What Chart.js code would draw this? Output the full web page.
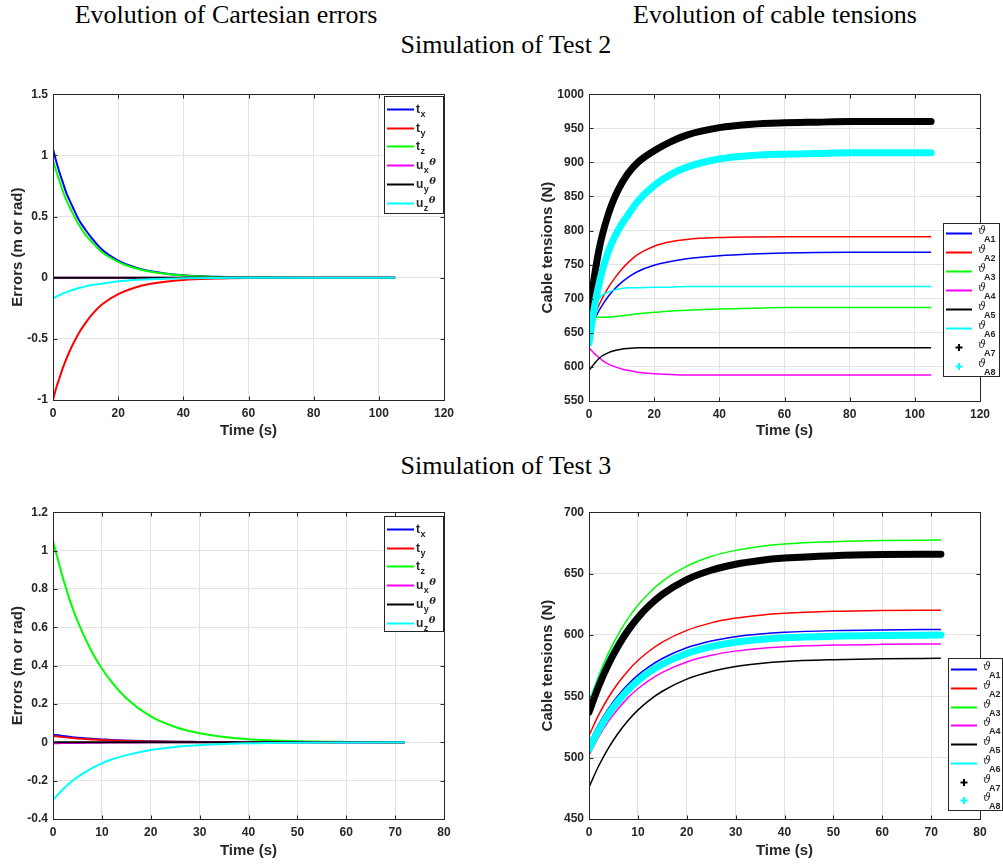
<!DOCTYPE html>
<html>
<head>
<meta charset="utf-8">
<script src="https://cdn.jsdelivr.net/npm/chart.js@4.4.0/dist/chart.umd.min.js"></script>
<style>
body{margin:0;background:#fff;width:1003px;height:865px;position:relative;overflow:hidden;}
.ttl{position:absolute;font-family:"Liberation Serif","Times New Roman",serif;font-size:26px;line-height:26px;color:#000;white-space:nowrap;transform:translateX(-50%);}
.pane{position:absolute;}
</style>
</head>
<body>
<div class="ttl" style="left:226px;top:2px">Evolution of Cartesian errors</div>
<div class="ttl" style="left:775px;top:2px">Evolution of cable tensions</div>
<div class="ttl" style="left:506px;top:32px">Simulation of Test 2</div>
<div class="ttl" style="left:506px;top:453px">Simulation of Test 3</div>

<div class="pane" style="left:0;top:82px"><canvas id="err2" width="470" height="365"></canvas></div>
<div class="pane" style="left:520px;top:82px"><canvas id="ten2" width="483" height="365"></canvas></div>
<div class="pane" style="left:0;top:500px"><canvas id="err3" width="470" height="365"></canvas></div>
<div class="pane" style="left:520px;top:500px"><canvas id="ten3" width="483" height="365"></canvas></div>

<script>
// sample times (s)
var time2 = [0,1,2,3,4,6,8,10,12,15,20,25,30,40,50,60,70,80,90,105];
var time3 = [0,2,4,6,8,10,12,15,20,25,30,35,40,50,60,72];

var errLabels = ['t_x','t_y','t_z','u_xθ','u_yθ','u_zθ'];
var errColors = ['#0000ff','#ff0000','#00ff00','#ff00ff','#000000','#00ffff'];
var tenLabels = ['ϑ_A1','ϑ_A2','ϑ_A3','ϑ_A4','ϑ_A5','ϑ_A6','ϑ_A7','ϑ_A8'];
var tenColors = ['#0000ff','#ff0000','#00ff00','#ff00ff','#000000','#00ffff','#000000','#00ffff'];

// tick values
var xTicks2 = [0,20,40,60,80,100,120];
var xTicks3 = [0,10,20,30,40,50,60,70,80];
var yErr2 = [-1,-0.5,0,0.5,1,1.5];
var yTen2 = [550,600,650,700,750,800,850,900,950,1000];
var yErr3 = [-0.4,-0.2,0,0.2,0.4,0.6,0.8,1,1.2];
var yTen3 = [450,500,550,600,650,700];

// Test 2 - cartesian errors
var e2_tx = [1.05,0.95,0.86,0.78,0.70,0.58,0.47,0.39,0.32,0.23,0.14,0.086,0.052,0.019,0.007,0.003,0.001,0,0,0];
var e2_ty = [-1,-0.9,-0.82,-0.74,-0.67,-0.55,-0.45,-0.37,-0.30,-0.22,-0.135,-0.082,-0.05,-0.018,-0.007,-0.0025,-0.001,0,0,0];
var e2_tz = [0.96,0.87,0.79,0.71,0.64,0.53,0.43,0.35,0.29,0.21,0.13,0.079,0.048,0.017,0.006,0.002,0.001,0,0,0];
var e2_ux = [0,0,0,0,0,0,0,0,0,0,0,0,0,0,0,0,0,0,0,0];
var e2_uy = [0,0,0,0,0,0,0,0,0,0,0,0,0,0,0,0,0,0,0,0];
var e2_uz = [-0.17,-0.156,-0.143,-0.131,-0.120,-0.101,-0.085,-0.071,-0.060,-0.049,-0.030,-0.019,-0.013,-0.005,-0.002,-0.001,0,0,0,0];

// Test 2 - cable tensions
var t2_a1 = [645,660,672,682,690,704,715,724,731.5,740,749,754.5,758.5,763,765.5,767,767.7,768,768,768];
var t2_a2 = [648,665,679,690,700,717,731,743,753,765,777,783.5,787,789.8,790.7,791,791,791,791,791];
var t2_a3 = [645,663,672,673,673,673,674,675,676,678,680,682,683,685,686,687,687,687,687,687];
var t2_a4 = [628,623,618,614,610,604,600,597,595,592,590,589,588,588,588,588,588,588,588,588];
var t2_a5 = [595,601,607,612,616,621,624,626,627,628,628,628,628,628,628,628,628,628,628,628];
var t2_a6 = [635,668,690,700,705,710,713,715,716,716,717,717,718,718,718,718,718,718,718,718];
var t2_a7 = [670,710,743,770,792,825,850,869,884,900,917,930,940,951,956,958,959,960,960,960];
var t2_a8 = [635,668,697,720,740,770,792,809,823,843,866,882,893,905,910,912,913,914,914,914];

// Test 3 - cartesian errors
var e3_tx = [0.04,0.033,0.027,0.022,0.018,0.015,0.012,0.009,0.005,0.003,0.002,0.001,0.001,0,0,0];
var e3_ty = [0.033,0.027,0.022,0.018,0.015,0.012,0.01,0.007,0.004,0.0025,0.0015,0.001,0,0,0,0];
var e3_tz = [1.05,0.86,0.70,0.575,0.47,0.385,0.315,0.23,0.135,0.08,0.047,0.028,0.016,0.006,0.002,0];
var e3_ux = [-0.005,-0.004,-0.003,-0.003,-0.002,-0.002,-0.001,-0.001,0,0,0,0,0,0,0,0];
var e3_uy = [0,0,0,0,0,0,0,0,0,0,0,0,0,0,0,0];
var e3_uz = [-0.30,-0.246,-0.201,-0.165,-0.135,-0.11,-0.09,-0.067,-0.04,-0.024,-0.015,-0.009,-0.005,-0.002,-0.001,0];

// Test 3 - cable tensions
var t3_a1 = [512,527.4,540.2,550.9,559.8,567.2,573.4,580.8,589.5,595.0,598.5,600.7,602.1,603.5,604.1,604.4];
var t3_a2 = [518,535.0,549.2,561.0,570.9,579.1,585.9,594.1,603.7,609.8,613.7,616.1,617.6,619.2,619.9,620.2];
var t3_a3 = [545,567.0,585.4,600.7,613.5,624.1,633.0,643.6,656.0,663.9,668.9,672.1,674.1,676.0,677.0,677.3];
var t3_a4 = [502,517.1,529.7,540.1,548.9,556.1,562.2,569.5,578.0,583.4,586.8,589.0,590.3,591.7,592.3,592.6];
var t3_a5 = [476,493.4,508.0,520.1,530.3,538.7,545.7,554.1,564.0,570.2,574.2,576.7,578.3,579.8,580.6,580.9];
var t3_a6 = [546,565.2,582.3,596.0,607.5,617.0,625.0,634.5,645.7,652.7,657.3,660.1,661.9,663.7,664.5,664.8];
var t3_a7 = [537,558.4,576.3,591.2,603.7,614.0,622.7,633.0,645.1,652.7,657.6,660.7,662.6,664.6,665.5,665.8];
var t3_a8 = [507,522.4,535.4,546.1,555.1,562.5,568.8,576.2,584.9,590.4,594.0,596.2,597.6,599.0,599.6,599.9];

var FONT = "'Liberation Sans', Arial, sans-serif";
var INK = '#262626';

// axes box with inward ticks (matlab style)
var framePlugin = {
	id: 'frame',
	afterDraw: function(chart) {
		var ctx = chart.ctx, a = chart.chartArea, sx = chart.scales.x, sy = chart.scales.y;
		ctx.save();
		ctx.strokeStyle = INK;
		ctx.lineWidth = 1;
		var L = Math.round(a.left) + 0.5, R = Math.round(a.right) + 0.5;
		var T = Math.round(a.top) + 0.5, B = Math.round(a.bottom) + 0.5;
		ctx.strokeRect(L, T, R - L, B - T);
		ctx.beginPath();
		sx.ticks.forEach(function(t) {
			var p = Math.round(sx.getPixelForValue(t.value)) + 0.5;
			ctx.moveTo(p, B); ctx.lineTo(p, B - 4);
			ctx.moveTo(p, T); ctx.lineTo(p, T + 4);
		});
		sy.ticks.forEach(function(t) {
			var p = Math.round(sy.getPixelForValue(t.value)) + 0.5;
			ctx.moveTo(L, p); ctx.lineTo(L + 4, p);
			ctx.moveTo(R, p); ctx.lineTo(R - 4, p);
		});
		ctx.stroke();
		ctx.restore();
	}
};

// boxed legend with sub/superscripts
var legendPlugin = {
	id: 'boxLegend',
	afterDraw: function(chart, args, o) {
		var ctx = chart.ctx;
		ctx.save();
		ctx.fillStyle = '#fff';
		ctx.fillRect(o.x, o.y, o.w, o.h);
		ctx.strokeStyle = INK;
		ctx.lineWidth = 1;
		ctx.strokeRect(o.x + 0.5, o.y + 0.5, o.w, o.h);
		chart.data.datasets.forEach(function(ds, i) {
			var y = Math.round(o.y + o.first + i * o.step) + 0.5;
			ctx.strokeStyle = ds.borderColor;
			ctx.lineWidth = 2;
			ctx.beginPath();
			if (ds.marker) {
				var cx = o.x + (o.l0 + o.l1) / 2;
				ctx.moveTo(cx - 3.5, y); ctx.lineTo(cx + 3.5, y);
				ctx.moveTo(cx, y - 3.5); ctx.lineTo(cx, y + 3.5);
			} else {
				ctx.moveTo(o.x + o.l0, y); ctx.lineTo(o.x + o.l1, y);
			}
			ctx.stroke();
			var parts = ds.label.split('_');
			var base = parts[0], rest = parts[1] || '';
			var sup = rest.indexOf('θ') >= 0 ? 'θ' : '';
			var sub = rest.replace('θ', '');
			var x = o.x + o.tx;
			ctx.fillStyle = INK;
			ctx.textBaseline = 'alphabetic';
			if (base === 'ϑ') {
				ctx.font = "italic 11px 'DejaVu Serif', serif";
				ctx.fillText(base, x, y);
				x += 6;
				ctx.font = 'bold 9px ' + FONT;
				ctx.fillText(sub, x, y + 8);
			} else {
				ctx.font = 'bold 12px ' + FONT;
				ctx.fillText(base, x, y + 3);
				x += ctx.measureText(base).width + 0.5;
				ctx.font = 'bold 9px ' + FONT;
				ctx.fillText(sub, x, y + 7);
				x += ctx.measureText(sub).width + 0.5;
				if (sup) {
					ctx.font = "bold italic 10px 'DejaVu Serif', serif";
					ctx.fillText(sup, x, y - 1);
				}
			}
		});
		ctx.restore();
	}
};

function buildSets(times, rows, labels, colors, lw) {
	return rows.map(function(vals, i) {
		var isMarker = labels[i] === 'ϑ_A7' || labels[i] === 'ϑ_A8';
		return {
			label: labels[i],
			data: vals.map(function(v, k) { return {x: times[k], y: v}; }),
			borderColor: colors[i],
			backgroundColor: colors[i],
			borderWidth: isMarker ? 7 : lw,
			borderCapStyle: isMarker ? 'round' : 'butt',
			pointRadius: 0,
			cubicInterpolationMode: 'monotone',
			marker: isMarker,
			order: rows.length - i
		};
	});
}

function makeChart(id, sets, xt, yt, ytitle, lay) {
	var tickFont = {family: FONT, size: 12, weight: 'bold'};
	var titleFont = {family: FONT, size: 15, weight: 'bold'};
	return new Chart(document.getElementById(id), {
		type: 'line',
		data: {datasets: sets},
		options: {
			responsive: false,
			animation: false,
			events: [],
			layout: {padding: {top: lay.top, right: lay.right, left: 0, bottom: 0}},
			plugins: {legend: {display: false}, tooltip: {enabled: false}, boxLegend: lay.legend},
			scales: {
				x: {
					type: 'linear', min: xt[0], max: xt[xt.length - 1],
					afterBuildTicks: function(s) { s.ticks = xt.map(function(v) { return {value: v}; }); },
					afterFit: function(s) { s.height = lay.xh; },
					grid: {color: '#e3e3e3', drawTicks: false},
					border: {display: false},
					ticks: {padding: 6, color: INK, font: tickFont, maxRotation: 0, autoSkip: false,
						callback: function(v) { return String(v); }},
					title: {display: true, text: 'Time (s)', color: INK, font: titleFont, padding: {top: 0, bottom: lay.xtp}}
				},
				y: {
					type: 'linear', min: yt[0], max: yt[yt.length - 1],
					afterBuildTicks: function(s) { s.ticks = yt.map(function(v) { return {value: v}; }); },
					afterFit: function(s) { s.width = lay.yw; },
					grid: {color: '#e3e3e3', drawTicks: false},
					border: {display: false},
					ticks: {padding: 5, color: INK, font: tickFont, autoSkip: false,
						callback: function(v) { return String(v); }},
					title: {display: true, text: ytitle, color: INK, font: titleFont, padding: {top: lay.ytp, bottom: 0}}
				}
			}
		},
		plugins: [framePlugin, legendPlugin]
	});
}

makeChart('err2',
	buildSets(time2, [e2_tx, e2_ty, e2_tz, e2_ux, e2_uy, e2_uz], errLabels, errColors, 2),
	xTicks2, yErr2, 'Errors (m or rad)',
	{top: 10, right: 26, xh: 47, yw: 53, xtp: 7, ytp: 9,
	 legend: {x: 384, y: 14, w: 59, h: 117, first: 13, step: 18.7, l0: 3, l1: 30, tx: 32}});

makeChart('ten2',
	buildSets(time2, [t2_a1, t2_a2, t2_a3, t2_a4, t2_a5, t2_a6, t2_a7, t2_a8], tenLabels, tenColors, 1.5),
	xTicks2, yTen2, 'Cable tensions (N)',
	{top: 10, right: 23, xh: 46, yw: 69, xtp: 7, ytp: 19,
	 legend: {x: 423, y: 141, w: 56, h: 153, first: 10.3, step: 18.9, l0: 3, l1: 29, tx: 35}});

makeChart('err3',
	buildSets(time3, [e3_tx, e3_ty, e3_tz, e3_ux, e3_uy, e3_uz], errLabels, errColors, 2),
	xTicks3, yErr3, 'Errors (m or rad)',
	{top: 11, right: 26, xh: 46, yw: 53, xtp: 5, ytp: 9,
	 legend: {x: 384, y: 16, w: 59, h: 115, first: 13, step: 18.7, l0: 3, l1: 30, tx: 32}});

makeChart('ten3',
	buildSets(time3, [t3_a1, t3_a2, t3_a3, t3_a4, t3_a5, t3_a6, t3_a7, t3_a8], tenLabels, tenColors, 1.5),
	xTicks3, yTen3, 'Cable tensions (N)',
	{top: 11, right: 23, xh: 46, yw: 69, xtp: 5, ytp: 19,
	 legend: {x: 428, y: 158, w: 54, h: 152, first: 11.3, step: 18.7, l0: 3, l1: 29, tx: 35}});
</script>
</body>
</html>
